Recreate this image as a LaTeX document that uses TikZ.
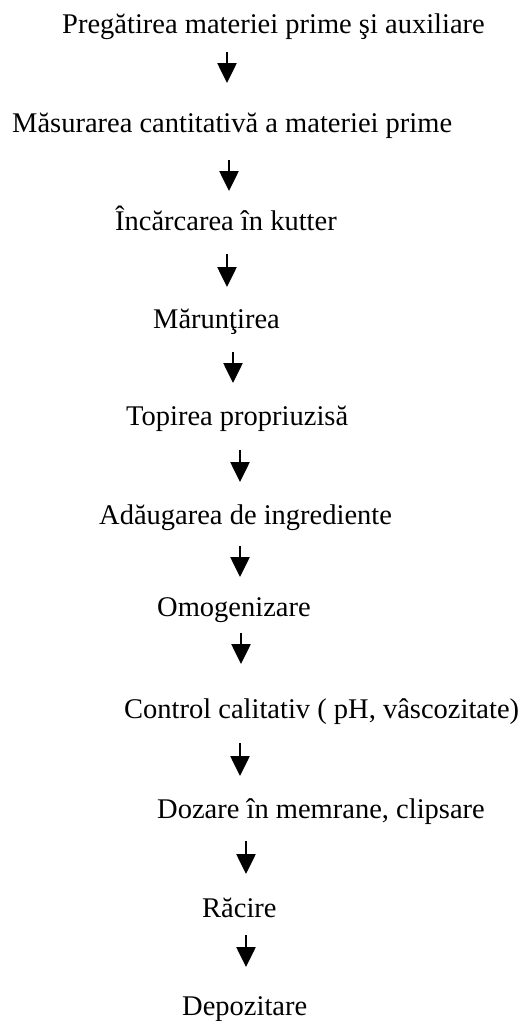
\documentclass[tikz,border=0pt]{standalone}
\usepackage{fontspec}
\setmainfont{Liberation Serif}
\usepackage{tikz}
\usetikzlibrary{arrows.meta}
\tikzset{
  %Define style for the process steps
  etapa/.style={
    anchor=base west,
    inner sep=0pt,
    font=\fontsize{28.5}{34}\selectfont},
  % Define arrow style
  sageata/.style={
    -{Triangle[width=19pt,length=20pt]},
    line width=2.6pt}
}

\begin{document}
\begin{tikzpicture}[x=1pt,y=-1pt]
      \useasboundingbox (0,0) rectangle (522,1021);
      \node[etapa] (e1) at (62,33) {Pregătirea materiei prime şi auxiliare};
      \node[etapa] (e2) at (12,132) {Măsurarea cantitativă a materiei prime};
      \node[etapa] (e3) at (115,230) {Încărcarea în kutter};
      \node[etapa] (e4) at (153,328) {Mărunţirea};
      \node[etapa] (e5) at (126,425) {Topirea propriuzisă};
      \node[etapa] (e6) at (99,524) {Adăugarea de ingrediente};
      \node[etapa] (e7) at (157,616) {Omogenizare};
      \node[etapa] (e8) at (124,718) {Control calitativ ( pH, vâscozitate)};
      \node[etapa] (e9) at (157,818) {Dozare în memrane, clipsare};
      \node[etapa] (e10) at (202,917) {Răcire};
      \node[etapa] (e11) at (182,1015) {Depozitare};
      % arrow ends between the steps
      \foreach \i/\x/\ya/\yb in {1/227/52/83, 2/229/160/191, 3/227/254/287,
          4/233/352/383, 5/240/450/482, 6/240/546/577, 7/241/633/664,
          8/240/743/776, 9/246/841/874, 10/246/935/967}{
        \coordinate (s\i) at (\x,\ya);
        \coordinate (t\i) at (\x,\yb);
        \draw[sageata] (s\i) -- (t\i);
      }
    \end{tikzpicture}
\end{document}
